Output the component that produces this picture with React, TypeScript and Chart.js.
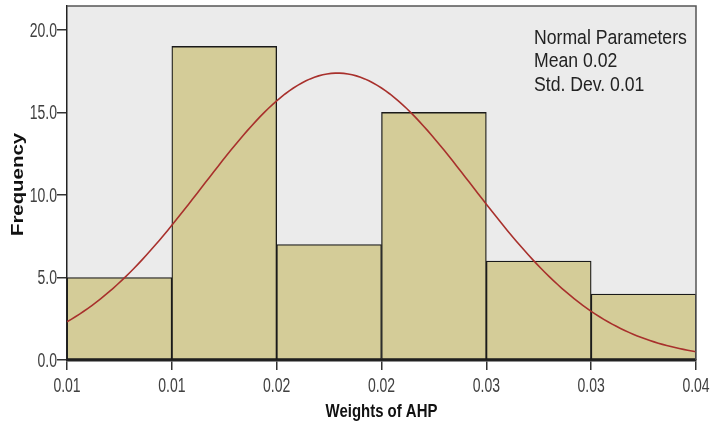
import React, { useEffect, useRef } from "react";
import { Chart, registerables } from "chart.js";

Chart.register(...registerables);

// Histogram bins (lower edge of the first bin and common bin width)
const binStart = 0.0075;
const binWidth = 0.005;
const frequencies = [5, 19, 7, 15, 6, 4];

// Axis ticks
const yTicks = [0, 5, 10, 15, 20];
const yMax = 21.45;

// Fitted normal curve parameters
const curveMean = 0.0204;
const curveStdDev = 0.006425;
const curveStep = 0.0002;

const xAxisTitle = "Weights of AHP";
const yAxisTitle = "Frequency";

const SANS = "'Liberation Sans', Arial, sans-serif";

const binEdges = frequencies
  .map((_, i) => binStart + i * binWidth)
  .concat([binStart + frequencies.length * binWidth]);
const barPoints = frequencies.map((f, i) => ({ x: binStart + (i + 0.5) * binWidth, y: f }));

function buildCurve() {
  const total = frequencies.reduce((a, b) => a + b, 0);
  const xEnd = binStart + frequencies.length * binWidth;
  const pts: { x: number; y: number }[] = [];
  const n = Math.round((xEnd - binStart) / curveStep);
  for (let i = 0; i <= n; i++) {
    const x = binStart + i * curveStep;
    const z = (x - curveMean) / curveStdDev;
    const y = ((total * binWidth) / (curveStdDev * Math.sqrt(2 * Math.PI))) * Math.exp(-0.5 * z * z);
    pts.push({ x, y });
  }
  return pts;
}

const legendLines = [
  "Normal Parameters",
  `Mean ${curveMean.toFixed(2)}`,
  `Std. Dev. ${curveStdDev.toFixed(2)}`,
];

// Condensed text: draw with a horizontal squeeze
function narrowText(
  ctx: CanvasRenderingContext2D,
  text: string,
  x: number,
  y: number,
  font: string,
  color: string,
  squeeze: number,
  align: CanvasTextAlign
) {
  ctx.save();
  ctx.translate(x, y);
  ctx.scale(squeeze, 1);
  ctx.font = font;
  ctx.fillStyle = color;
  ctx.textAlign = align;
  ctx.textBaseline = "alphabetic";
  ctx.fillText(text, 0, 0);
  ctx.restore();
}

const plotFrame = {
  id: "plotFrame",
  beforeDraw(chart: any) {
    const { ctx, chartArea } = chart;
    ctx.save();
    ctx.fillStyle = "#ebebeb";
    ctx.fillRect(chartArea.left, chartArea.top, chartArea.right - chartArea.left, chartArea.bottom - chartArea.top);
    ctx.restore();
  },
  afterDraw(chart: any) {
    const { ctx, chartArea, scales } = chart;
    ctx.save();
    ctx.strokeStyle = "#555555";
    ctx.lineWidth = 1.5;
    ctx.beginPath();
    ctx.moveTo(chartArea.left, chartArea.top);
    ctx.lineTo(chartArea.right, chartArea.top);
    ctx.lineTo(chartArea.right, chartArea.bottom);
    ctx.stroke();
    ctx.restore();

    // tick labels
    const tickFont = `20px ${SANS}`;
    yTicks.forEach((v) => {
      const y = scales.y.getPixelForValue(v);
      narrowText(ctx, v.toFixed(1), 57, y + 7, tickFont, "#404040", 0.7, "right");
    });
    binEdges.forEach((v) => {
      const x = scales.x.getPixelForValue(v);
      narrowText(ctx, v.toFixed(2), x, 392, tickFont, "#404040", 0.7, "center");
    });

    // axis titles
    narrowText(
      ctx,
      xAxisTitle,
      (chartArea.left + chartArea.right) / 2,
      417,
      `bold 18px ${SANS}`,
      "#111111",
      0.83,
      "center"
    );
    ctx.save();
    ctx.translate(18.5, 184.5);
    ctx.rotate(-Math.PI / 2);
    ctx.scale(1.02, 0.8);
    ctx.font = `bold 20px ${SANS}`;
    ctx.fillStyle = "#111111";
    ctx.textAlign = "center";
    ctx.textBaseline = "middle";
    ctx.fillText(yAxisTitle, 0, 0);
    ctx.restore();

    // normal parameters text
    legendLines.forEach((line, i) => {
      narrowText(ctx, line, 534, 44 + i * 23.3, `20.5px ${SANS}`, "#222222", 0.86, "left");
    });
  },
};

export default function App() {
  const canvasRef = useRef<HTMLCanvasElement | null>(null);

  useEffect(() => {
    document.body.style.margin = "0";
    const canvas = canvasRef.current;
    if (!canvas) return;
    const chart = new Chart(canvas, {
      type: "bar",
      data: {
        datasets: [
          {
            type: "line",
            data: buildCurve(),
            borderColor: "#a8302c",
            borderWidth: 1.6,
            pointRadius: 0,
            tension: 0,
            fill: false,
            order: 0,
          } as any,
          {
            type: "bar",
            data: barPoints,
            backgroundColor: "#d4cc98",
            borderColor: "#1a1a1a",
            borderWidth: 1.3,
            borderSkipped: false,
            barPercentage: 1,
            categoryPercentage: 1,
            order: 1,
          } as any,
        ],
      },
      options: {
        responsive: false,
        animation: false,
        devicePixelRatio: 1,
        layout: { padding: { top: 6, right: 15, left: 0, bottom: 0 } },
        plugins: {
          legend: { display: false },
          tooltip: { enabled: false },
        },
        scales: {
          x: {
            type: "linear",
            offset: false,
            min: binEdges[0],
            max: binEdges[binEdges.length - 1],
            afterBuildTicks: (scale: any) => {
              scale.ticks = binEdges.map((v) => ({ value: v }));
            },
            afterFit: (scale: any) => {
              scale.height = 65;
            },
            ticks: { display: false, autoSkip: false },
            grid: {
              offset: false,
              drawOnChartArea: false,
              drawTicks: true,
              tickLength: 10,
              color: "#333333",
              lineWidth: 1.5,
            },
            border: { display: true, color: "#222222", width: 2.5 },
          },
          y: {
            type: "linear",
            min: 0,
            max: yMax,
            afterBuildTicks: (scale: any) => {
              scale.ticks = yTicks.map((v) => ({ value: v }));
            },
            afterFit: (scale: any) => {
              scale.width = 67;
            },
            ticks: { display: false },
            grid: {
              drawOnChartArea: false,
              drawTicks: true,
              tickLength: 10,
              color: "#333333",
              lineWidth: 1.5,
            },
            border: { display: true, color: "#222222", width: 1.5 },
          },
        },
      },
      plugins: [plotFrame],
    });
    return () => chart.destroy();
  }, []);

  return (
    <div style={{ width: 711, height: 425, background: "#ffffff" }}>
      <canvas ref={canvasRef} width={711} height={425} style={{ display: "block" }} />
    </div>
  );
}
